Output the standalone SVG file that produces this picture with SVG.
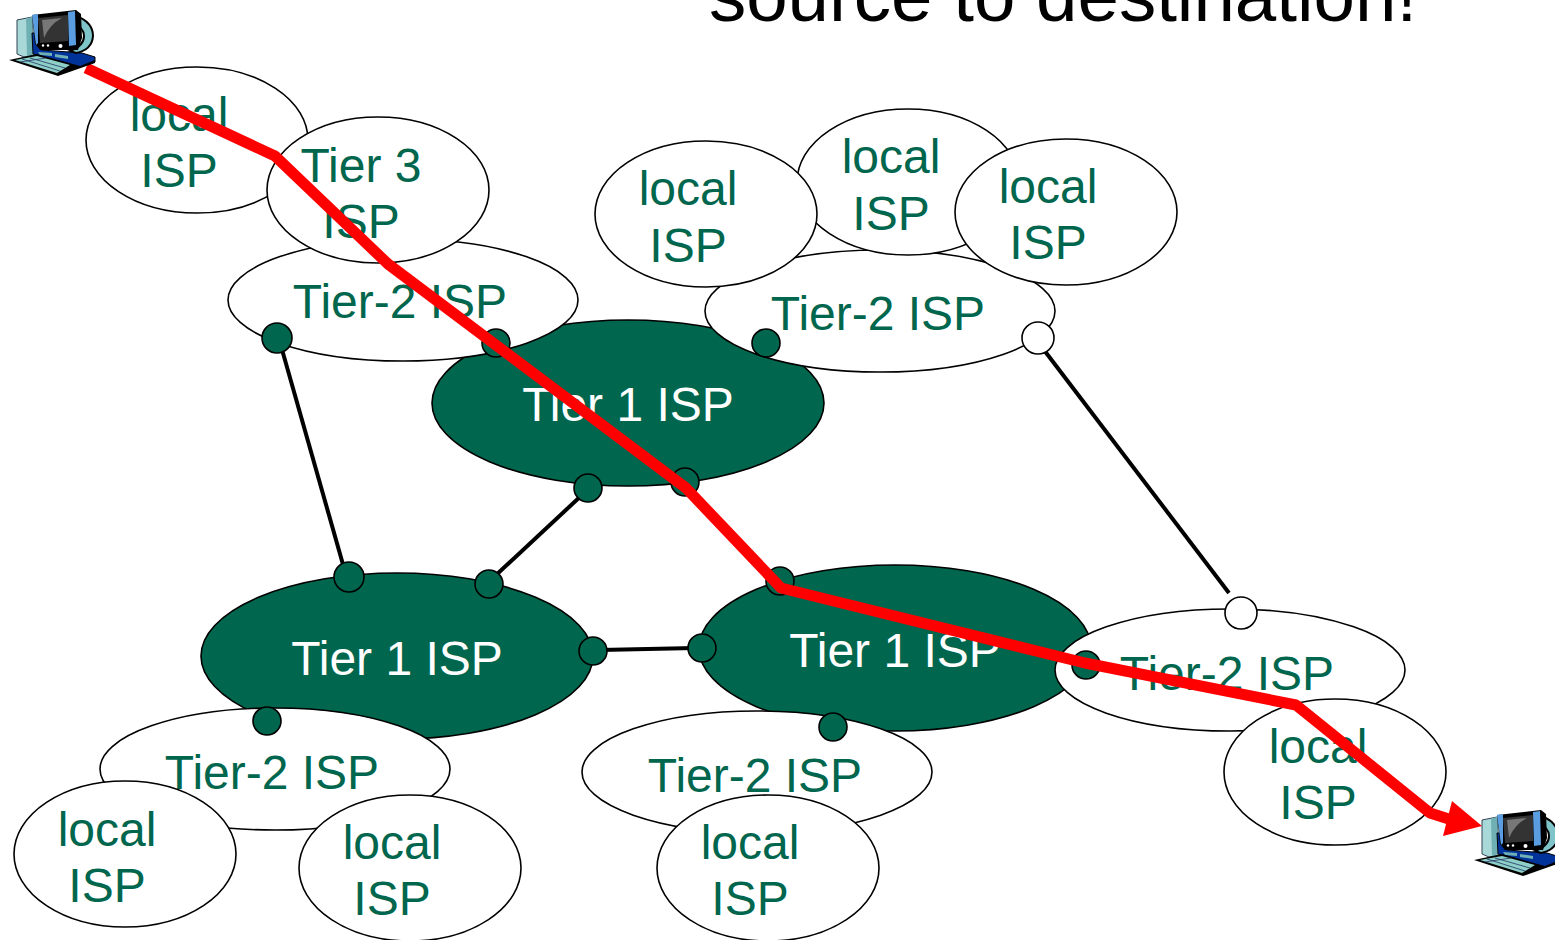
<svg xmlns="http://www.w3.org/2000/svg" width="1555" height="940" viewBox="0 0 1555 940">
<style>
.e{fill:#fff;stroke:#000;stroke-width:1.6}
.t1{fill:#00664d;stroke:#000;stroke-width:1.6}
.d{fill:#00664d;stroke:#000;stroke-width:1.6}
.o{fill:#fff;stroke:#000;stroke-width:1.6}
text{font-family:"Liberation Sans",Arial,sans-serif;font-size:48px;fill:#00664d;text-anchor:middle}
.w{fill:#fff}
.l{stroke:#000;stroke-width:4;fill:none}
</style>
<defs>
<g id="pc">
<path d="M17 20 L32 17 L34 55 L24 57 L17 54z" fill="#a8d8d8" stroke="#345" stroke-width="1"/>
<path d="M26 18.500 L32 17 L34 55 L27 56z" fill="#6fb0b4"/>
<path d="M32 33 L40 33 L42 50 L82 53 L95 57 L95 62 L76 68 L40 56 L33 54z" fill="#003399" stroke="#000" stroke-width="1"/>
<path d="M76 16 Q93 22 93 36 Q92 50 76 53 L70 51 Q84 46 84 36 Q84 28 74 24z" fill="#7fc4c8" stroke="#000" stroke-width="2"/>
<path d="M32 15 L76 10 L81 14 L82 38 L78 50 L40 50 L35 44z" fill="#000"/>
<path d="M32 15 L38 14 L38 43 L36 45z" fill="#5a9de0"/>
<path d="M68 12 L75 11 L76 45 L69 46z" fill="#5a9de0"/>
<path d="M38 18 L68 15 L68 41 L40 43z" fill="#333"/>
<path d="M42 20 L62 18 Q50 24 44 38z" fill="#777"/>
<circle cx="43" cy="45.500" r="1.200" fill="#fff"/><circle cx="48" cy="45.500" r="1.200" fill="#fff"/><circle cx="60.500" cy="46" r="2" fill="#fff"/>
<path d="M38 52 L52 53 L52 56 L40 55zM55 54 L68 56 L68 59 L55 57z" fill="#6fb0b4"/>
<path d="M9 60 L37 54 L80 66 L95 60 L95 63 L58 76z" fill="#000"/>
<path d="M15 60 L37 56 L70 65 L57 73z" fill="#8ed0c8"/>
<path d="M22 59 L60 71M30 58 L65 68M20 62 L46 58" stroke="#236" stroke-width="0.800" fill="none"/>
</g>
</defs>
<text x="1063" y="21" style="font-size:74.500px;fill:#000">source to destination!</text>
<g id="connectors">
<line class="l" x1="281" y1="346" x2="344" y2="568"/>
<line class="l" x1="582" y1="495" x2="495" y2="576"/>
<line class="l" x1="600" y1="650" x2="695" y2="648"/>
<line class="l" x1="1044" y1="350" x2="1229" y2="593"/>
</g>
<g id="tier1-top"><ellipse class="t1" cx="628" cy="403" rx="196" ry="83"/><text class="w" x="628" y="421">Tier 1 ISP</text></g>
<g id="tier1-left"><ellipse class="t1" cx="397" cy="656" rx="196" ry="83"/><text class="w" x="397" y="675">Tier 1 ISP</text></g>
<g id="tier1-right"><ellipse class="t1" cx="895" cy="648" rx="196" ry="83"/><text class="w" x="895" y="667">Tier 1 ISP</text></g>
<g id="tier2-a"><ellipse class="e" cx="403" cy="300" rx="175" ry="61"/><text x="400" y="318">Tier-2 ISP</text></g>
<g id="tier2-b"><ellipse class="e" cx="880" cy="311" rx="175" ry="61"/><text x="878" y="330">Tier-2 ISP</text></g>
<g id="tier2-c"><ellipse class="e" cx="1230" cy="670" rx="175" ry="61"/><text x="1227" y="690">Tier-2 ISP</text></g>
<g id="tier2-d"><ellipse class="e" cx="275" cy="769" rx="175" ry="61"/><text x="272" y="789">Tier-2 ISP</text></g>
<g id="tier2-e"><ellipse class="e" cx="757" cy="772" rx="175" ry="61"/><text x="755" y="792">Tier-2 ISP</text></g>
<g id="local-1"><ellipse class="e" cx="197" cy="140" rx="111" ry="73"/><text x="179" y="131">local</text><text x="179" y="187">ISP</text></g>
<g id="tier3"><ellipse class="e" cx="378" cy="190" rx="111" ry="73"/><text x="361" y="182">Tier 3</text><text x="361" y="238">ISP</text></g>
<g id="local-3"><ellipse class="e" cx="908" cy="182" rx="111" ry="73"/><text x="891" y="173">local</text><text x="891" y="230">ISP</text></g>
<g id="local-2"><ellipse class="e" cx="706" cy="214" rx="111" ry="73"/><text x="688" y="205">local</text><text x="688" y="262">ISP</text></g>
<g id="local-4"><ellipse class="e" cx="1066" cy="212" rx="111" ry="73"/><text x="1048" y="203">local</text><text x="1048" y="259">ISP</text></g>
<g id="local-5"><ellipse class="e" cx="125" cy="854" rx="111" ry="73"/><text x="107" y="846">local</text><text x="107" y="902">ISP</text></g>
<g id="local-6"><ellipse class="e" cx="410" cy="868" rx="111" ry="73"/><text x="392" y="859">local</text><text x="392" y="915">ISP</text></g>
<g id="local-7"><ellipse class="e" cx="768" cy="868" rx="111" ry="73"/><text x="750" y="859">local</text><text x="750" y="915">ISP</text></g>
<g id="local-8"><ellipse class="e" cx="1335" cy="772" rx="111" ry="73"/><text x="1318" y="763">local</text><text x="1318" y="819">ISP</text></g>
<g id="dots">
<circle class="d" cx="277" cy="338" r="15"/>
<circle class="d" cx="496" cy="343" r="14"/>
<circle class="d" cx="766" cy="343" r="14"/>
<circle class="o" cx="1038" cy="338" r="16"/>
<circle class="d" cx="588" cy="488" r="14"/>
<circle class="d" cx="685" cy="482" r="14"/>
<circle class="d" cx="349" cy="577" r="15"/>
<circle class="d" cx="489" cy="584" r="14"/>
<circle class="d" cx="780" cy="581" r="14"/>
<circle class="o" cx="1241" cy="613" r="16"/>
<circle class="d" cx="593" cy="651" r="14"/>
<circle class="d" cx="702" cy="648" r="14"/>
<circle class="d" cx="1086" cy="665" r="14"/>
<circle class="d" cx="267" cy="721" r="14"/>
<circle class="d" cx="833" cy="727" r="14"/>
</g>
<g id="route">
<path d="M86 68 L275 156 L388 264 L686 488 L781 588 L1085 663 L1296 705 L1430 813 L1455 821" fill="none" stroke="#f00" stroke-width="11" stroke-linejoin="round"/>
<path d="M1452 801 L1482 826 L1443 836 Z" fill="#f00"/>
</g>
<use id="pc-source" href="#pc"/>
<use id="pc-dest" href="#pc" x="1465" y="800"/>
</svg>
